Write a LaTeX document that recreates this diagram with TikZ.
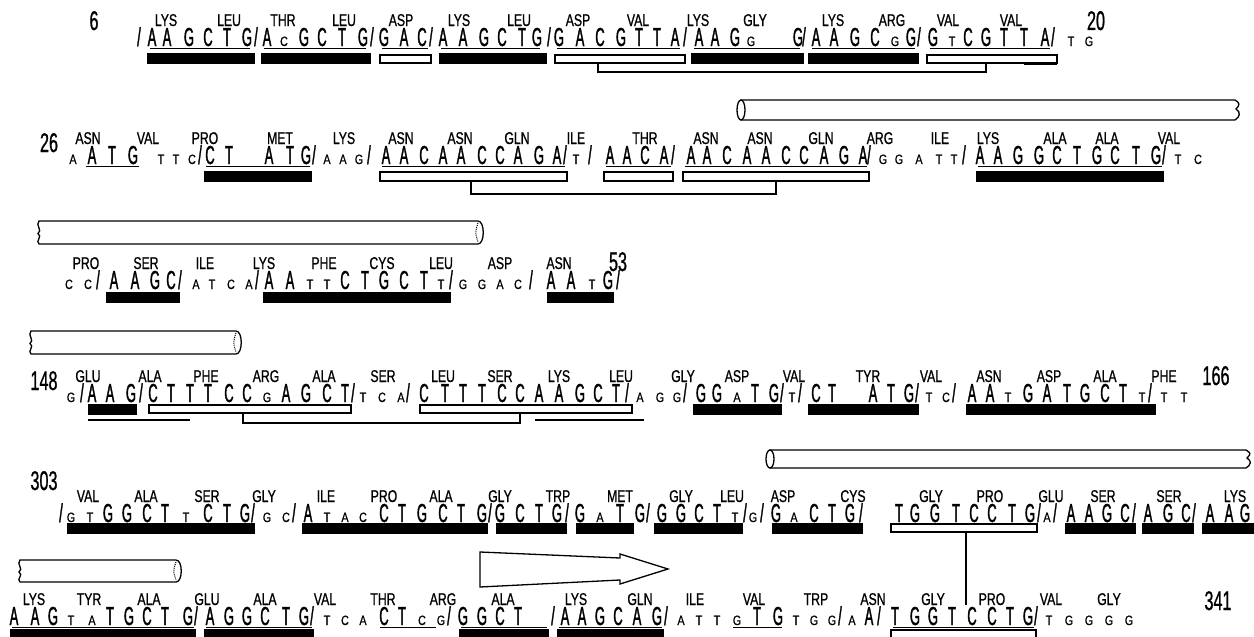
\documentclass[tikz,border=0pt]{standalone}
\usepackage{fontspec}
\newfontfamily\fbig[FakeStretch=0.5,FakeBold=1.2]{Liberation Sans}
\newfontfamily\fsmall[FakeStretch=0.8,FakeBold=0.6]{Liberation Sans}
\newfontfamily\flab[FakeStretch=0.72,FakeBold=0.8]{Liberation Sans}
\newfontfamily\fnum[FakeStretch=0.6,FakeBold=0.8]{Liberation Sans}
\newcommand\nucg[1]{\if#1|{\fbig\fontsize{26}{26}\selectfont/}\else\ifnum\uccode`#1=`#1\relax{\fbig\fontsize{26}{26}\selectfont#1}\else{\fsmall\fontsize{13.5}{13.5}\selectfont\uppercase{#1}}\fi\fi}
\tikzset{
  nuc/.style={anchor=base,inner sep=0pt,outer sep=0pt},
  lab/.style={anchor=base,inner sep=0pt,font=\flab\fontsize{17}{17}\selectfont},
  num/.style={anchor=base,inner sep=0pt,font=\fnum\fontsize{27}{27}\selectfont},
  wbar/.style={fill=white,draw=black,line width=1.4pt},
  brk/.style={draw=black,line width=1.4pt},
  uline/.style={draw=black,line width=0.8pt},
  cyl/.style={draw=black,line width=1.3pt,fill=white},
}
\newcommand\nucrow[3]{\foreach \xx/\nn [count=\k] in {#3} \node[nuc] (#1n\k) at (\xx,#2) {\expandafter\nucg\expandafter{\nn}};}
\newcommand\labrow[3]{\foreach \xx/\lb [count=\k] in {#3} \node[lab] (#1a\k) at (\xx,#2) {\lb};}
\newcommand\blackbars[3]{\foreach \xa/\xb in {#3} \fill[black] (\xa,#1) rectangle (\xb,#2);}
\newcommand\whitebars[3]{\foreach \xa/\xb in {#3} \draw[wbar] (\xa,#1) rectangle (\xb,#2);}
\newcommand\ulines[2]{\foreach \xa/\xb in {#2} \draw[uline] (\xa,#1) -- (\xb,#1);}
\newcommand\cylA[4]{%
  \pgfmathsetmacro\cyym{(#3+#4)/2}\pgfmathsetmacro\cyrr{(#4-#3)/2}%
  \draw[cyl] ({#1+4},#3) -- (#2,#3) .. controls ({#2+5},{#3+3}) and ({#2+5},{\cyym-5}) .. ({#2+1},{\cyym-1}) .. controls ({#2+6},{\cyym+2}) and ({#2+5},{#4-3}) .. (#2,#4) -- ({#1+4},#4) -- cycle;
  \draw[cyl] ({#1+4},\cyym) ellipse (4 and \cyrr);}
\newcommand\cylB[4]{%
  \pgfmathsetmacro\cyym{(#3+#4)/2}%
  \draw[cyl] (#1,#3) -- ({#2-6},#3) .. controls ({#2+1},#3) and ({#2+1},#4) .. ({#2-6},#4) -- (#1,#4) .. controls ({#1-4},{#4-3}) and ({#1+4},{\cyym+4}) .. ({#1-1},{\cyym+1}) .. controls ({#1+4},{\cyym-2}) and ({#1-4},{#3+4}) .. cycle;
  \draw[densely dotted,line width=1pt] ({#2-6},{#3+2}) .. controls ({#2-9},\cyym) .. ({#2-6},{#4-2});}
\begin{document}
\begin{tikzpicture}[x=1pt,y=-1pt]
\useasboundingbox (0,0) rectangle (1254,637);
\fill[white] (0,0) rectangle (1254,637);

% ---------------- row 1
\node[num] (n6) at (94,30) {6};
\node[num] (n20) at (1096,30) {20};
\labrow{r1}{26}{166/LYS,229/LEU,283/THR,344/LEU,401/ASP,459/LYS,519/LEU,578/ASP,638/VAL,698/LYS,755/GLY,833/LYS,892/ARG,948/VAL,1011/VAL}
\nucrow{r1}{46}{139/|,152/A,167/A,189/G,208/C,227/T,247/G,256/|,267/A,284/c,304/G,322/C,342/T,363/G,372/|,384/G,404/A,422/C,431/|,443/A,463/A,484/G,502/C,522/T,537/G,549/|,559/G,580/A,600/C,621/G,639/T,657/T,675/A,685/|,699/A,715/A,735/G,751/g,798/G,804/|,816/A,834/A,855/G,875/C,895/g,911/G,919/|,933/G,952/t,968/C,986/G,1004/T,1024/T,1045/A,1053/|,1071/t,1089/g}
\ulines{48}{150/250,264/366,382/428,441/540,557/680,694/800,812/915,930/1050}
\blackbars{53}{64}{147/255,261/371,439/547,691/804,808/919}
\whitebars{55}{63}{380/431,555/685,927/1057}
\fill[black] (1024,62) rectangle (1057,65);
\draw[brk] (598,63) -- (598,72) -- (986,72) -- (986,63);

% ---------------- row 2
\cylA{737}{1235}{100}{120}
\node[num] (n26) at (49,152) {26};
\labrow{r2}{144}{88/ASN,148/VAL,205/PRO,280/MET,344/LYS,401/ASN,460/ASN,517/GLN,576/ILE,645/THR,706/ASN,760/ASN,821/GLN,880/ARG,940/ILE,988/LYS,1055/ALA,1107/ALA,1169/VAL}
\nucrow{r2}{164}{73/a,92/A,112/T,133/G,161/t,176/t,192/c,200/|,210/C,229/T,269/A,290/T,306/G,314/|,327/a,343/a,359/g,369/|,386/A,404/A,424/C,443/A,461/A,482/C,500/C,518/A,539/G,557/A,565/|,576/t,590/|,610/A,627/A,645/C,664/A,673/|,691/A,707/A,727/C,747/A,766/A,786/C,804/C,824/A,844/G,863/A,869/|,883/g,899/g,919/a,939/t,954/t,964/|,980/A,998/A,1018/G,1039/G,1057/C,1077/T,1097/G,1115/C,1136/T,1156/G,1164/|,1178/t,1198/c}
\ulines{166}{86/139,206/310,382/565,606/671,685/867,978/1162}
\blackbars{171}{182}{204/312,976/1164}
\whitebars{172}{181}{380/567,604/673,683/869}
\draw[brk] (471,181) -- (471,194) -- (776,194) -- (776,181);

% ---------------- row 3
\cylB{39}{484}{221}{244}
\node[num] (n53) at (618,271) {53};
\labrow{r3}{269}{86/PRO,146/SER,205/ILE,264/LYS,324/PHE,382/CYS,441/LEU,500/ASP,559/ASN}
\nucrow{r3}{289}{69/c,88/c,98/|,114/A,135/A,155/G,171/C,180/|,196/a,212/t,231/c,249/a,257/|,269/A,290/A,310/t,327/t,345/C,365/T,384/G,404/C,424/T,441/t,451/|,463/g,482/g,500/a,518/c,531/|,551/A,571/A,592/t,608/G,618/|}
\blackbars{292}{303}{106/180,263/451,547/614}

% ---------------- row 4
\cylB{31}{242}{331}{354}
\node[num] (n148) at (44,390) {148};
\node[num] (n166) at (1216,385) {166};
\labrow{r4}{382}{88/GLU,150/ALA,206/PHE,266/ARG,324/ALA,383/SER,443/LEU,500/SER,559/LYS,621/LEU,683/GLY,737/ASP,794/VAL,868/TYR,931/VAL,989/ASN,1049/ASP,1105/ALA,1164/PHE}
\nucrow{r4}{402}{71/g,82/|,92/A,110/A,131/G,141/|,153/C,171/T,190/T,208/T,229/C,247/C,267/g,286/A,306/G,327/C,345/T,353/|,363/t,382/c,401/a,408/|,424/C,445/T,463/T,482/T,502/C,520/C,539/A,559/A,580/G,598/C,616/T,627/|,640/a,660/g,677/g,685/|,701/G,717/G,737/a,755/T,774/G,782/|,792/t,800/|,816/C,832/T,873/A,891/T,909/G,917/|,929/t,946/c,954/|,972/A,990/A,1008/t,1028/G,1047/A,1067/T,1085/G,1105/C,1123/T,1142/t,1150/|,1164/t,1184/t}
\blackbars{404}{415}{88/137,693/782,808/919,966/1156}
\whitebars{405}{413}{149/351,420/632}
\draw[brk] (243,413) -- (243,423) -- (520,423) -- (520,413);
\draw[line width=1.2pt] (88,420) -- (190,420);
\draw[line width=1.2pt] (535,420) -- (644,420);

% ---------------- row 5
\cylA{766}{1246}{450}{468}
\node[num] (n303) at (44,490) {303};
\labrow{r5}{502}{88/VAL,146/ALA,207/SER,264/GLY,326/ILE,384/PRO,441/ALA,500/GLY,558/TRP,620/MET,681/GLY,732/LEU,783/ASP,853/CYS,931/GLY,990/PRO,1051/GLU,1103/SER,1169/SER,1235/LYS}
\nucrow{r5}{522}{61/|,71/g,90/t,108/G,127/G,147/C,165/T,186/t,208/C,227/T,245/G,253/|,267/g,286/c,294/|,308/A,327/t,345/a,363/c,384/C,402/T,422/G,443/C,461/T,482/G,490/|,500/G,520/C,539/T,557/G,567/|,580/G,600/a,620/T,640/G,648/|,662/G,681/G,699/C,717/T,735/t,745/|,753/g,762/|,776/G,794/a,814/C,832/T,850/G,861/|,899/T,915/G,935/G,956/T,974/C,992/C,1012/T,1030/G,1039/|,1047/a,1055/|,1071/A,1089/A,1107/G,1125/C,1134/|,1148/A,1168/G,1186/C,1194/|,1210/A,1229/A,1245/G}
\blackbars{523}{534}{67/255,302/488,496/567,576/634,654/743,772/863,1065/1136,1142/1194,1202/1254}
\whitebars{524}{532}{891/1037}
\coordinate (v5) at (966,532);
\coordinate (v6) at (966,605);
\draw[line width=1.3pt] (v5) -- (v6);

% ---------------- row 6
\cylB{20}{182}{560}{582}
\draw[line width=1.3pt,fill=white] (480,552) -- (620,558) -- (620,554) -- (668,569) -- (620,584) -- (620,580) -- (480,587) -- cycle;
\node[num] (n341) at (1218,610) {341};
\labrow{r6}{605}{34/LYS,89/TYR,149/ALA,207/GLU,265/ALA,325/VAL,383/THR,443/ARG,503/ALA,576/LYS,640/GLN,695/ILE,754/VAL,816/TRP,873/ASN,933/GLY,992/PRO,1051/VAL,1109/GLY}
\nucrow{r6}{625}{14/A,35/A,53/G,71/t,92/a,110/T,129/G,147/C,165/T,188/G,196/|,210/A,229/G,247/G,265/C,286/T,304/G,312/|,327/t,345/c,363/a,384/C,402/T,422/c,441/g,449/|,463/G,482/G,500/C,518/T,553/|,565/A,582/A,600/G,618/C,637/A,657/G,666/|,681/a,699/t,717/t,737/g,757/T,778/G,796/t,814/g,832/g,840/|,852/a,869/A,879/|,895/T,915/G,933/G,952/T,972/C,992/C,1010/T,1028/G,1036/|,1049/t,1069/g,1089/g,1109/g,1129/g}
\ulines{627}{12/194,206/312,380/436,461/547,559/662,733/782,893/1034}
\blackbars{629}{641}{10/196,204/314,459/549,557/664}
\whitebars{630}{642}{891/1036}
\end{tikzpicture}
\end{document}
